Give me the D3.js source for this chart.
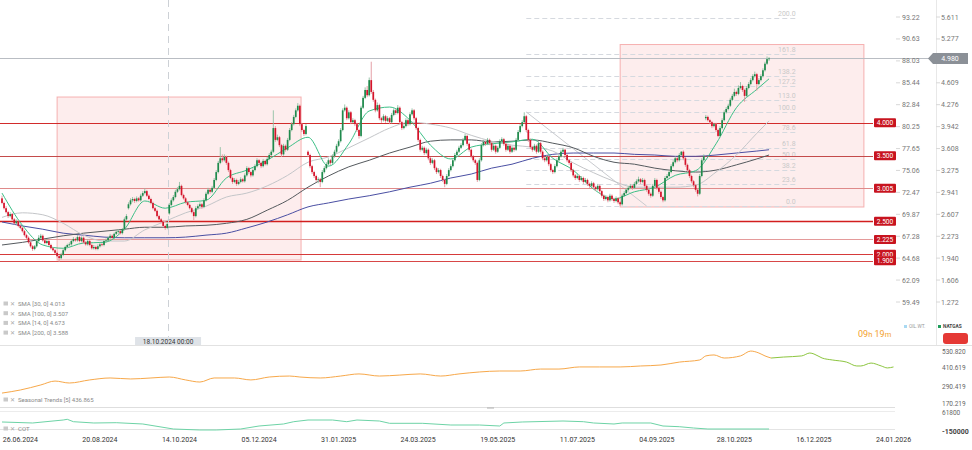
<!DOCTYPE html>
<html><head><meta charset="utf-8">
<script src="https://cdn.jsdelivr.net/npm/d3@7"></script>
<style>
html,body{margin:0;padding:0;background:#fff;}
svg{display:block;font-family:Roboto,"Open Sans",Arial,sans-serif;}
</style></head><body>
<svg id="c" width="972" height="450"></svg>
<script>
// ---------------- DATA ----------------
const opens=[2.85,2.78,2.70,2.64,2.58,2.61,2.53,2.47,2.50,2.43,
2.40,2.35,2.29,2.25,2.18,2.12,2.08,2.12,2.20,2.25,
2.28,2.21,2.17,2.20,2.14,2.09,2.06,2.02,1.97,1.94,
1.99,2.06,2.11,2.14,2.15,2.20,2.23,2.21,2.26,2.20,
2.25,2.18,2.15,2.20,2.14,2.09,2.11,2.08,2.12,2.15,
2.14,2.20,2.21,2.25,2.28,2.25,2.31,2.34,2.35,2.32,
2.38,2.53,2.70,2.76,2.82,2.84,2.81,2.85,2.82,2.89,
2.93,2.96,2.89,2.84,2.78,2.70,2.66,2.58,2.53,2.49,
2.43,2.40,2.62,2.75,2.82,2.87,2.95,2.99,3.04,2.90,
2.85,2.79,2.75,2.70,2.64,2.58,2.70,2.73,2.76,2.72,
2.82,2.92,2.98,2.95,3.01,3.13,3.25,3.39,3.46,3.43,
3.48,3.39,3.28,3.16,3.10,3.13,3.07,3.10,3.14,3.11,
3.20,3.31,3.25,3.20,3.28,3.34,3.43,3.39,3.34,3.42,
3.37,3.45,3.51,3.56,3.92,3.74,3.78,3.66,3.52,3.65,
3.59,3.74,3.89,3.98,4.09,4.19,4.26,3.98,3.89,3.83,
3.56,3.51,3.34,3.25,3.19,3.13,3.14,3.10,3.25,3.31,
3.37,3.43,3.39,3.49,3.56,3.65,3.72,3.89,4.19,4.23,
4.07,4.16,4.01,4.04,3.98,3.89,3.80,4.23,4.38,4.50,
4.42,4.65,4.47,4.35,4.19,4.27,4.07,4.04,4.10,4.03,
4.07,4.01,4.12,4.19,4.15,4.23,4.01,3.92,3.95,4.04,
3.98,4.13,4.19,4.07,3.92,3.74,3.59,3.62,3.54,3.59,
3.46,3.39,3.43,3.31,3.25,3.28,3.19,3.13,3.07,3.19,
3.28,3.34,3.43,3.51,3.56,3.62,3.66,3.74,3.80,3.68,
3.59,3.49,3.43,3.39,3.13,3.43,3.66,3.71,3.68,3.74,
3.69,3.59,3.65,3.56,3.62,3.72,3.75,3.68,3.59,3.65,
3.56,3.62,3.59,3.74,3.86,3.95,4.01,4.10,3.89,3.74,
3.63,3.59,3.65,3.56,3.69,3.56,3.46,3.43,3.48,3.37,
3.28,3.25,3.34,3.43,3.49,3.56,3.59,3.51,3.43,3.39,
3.28,3.20,3.16,3.19,3.13,3.16,3.10,3.13,3.07,3.04,
3.08,3.02,2.99,3.04,2.96,2.89,2.84,2.87,2.82,2.89,
2.84,2.81,2.85,2.79,2.76,2.89,2.93,2.98,3.01,3.04,
3.01,3.07,3.11,3.14,3.10,3.13,3.04,2.98,2.92,2.89,
3.04,3.13,3.01,2.95,2.87,2.82,3.16,3.19,3.25,3.34,
3.40,3.46,3.43,3.51,3.56,3.46,3.36,3.28,3.19,3.11,
3.05,2.98,2.92,3.19,3.43,4.07,4.09,4.04,4.01,3.95,
3.98,3.89,3.80,3.92,4.04,4.16,4.21,4.26,4.35,4.41,
4.47,4.44,4.53,4.56,4.50,4.41,4.53,4.59,4.65,4.71,
4.74,4.59,4.65,4.71,4.80,4.90,4.97];
const highs=[2.89,2.80,2.73,2.66,2.64,2.63,2.55,2.53,2.52,2.46,
2.42,2.37,2.31,2.27,2.20,2.14,2.14,2.23,2.29,2.31,
2.30,2.23,2.23,2.22,2.16,2.11,2.08,2.04,1.99,2.02,
2.08,2.13,2.16,2.18,2.22,2.26,2.25,2.29,2.28,2.27,
2.27,2.20,2.23,2.22,2.16,2.14,2.13,2.15,2.18,2.17,
2.22,2.24,2.27,2.31,2.30,2.33,2.37,2.38,2.37,2.40,
2.56,2.61,2.79,2.85,2.87,2.86,2.88,2.87,2.92,2.96,
3.00,2.98,2.91,2.86,2.80,2.72,2.68,2.60,2.55,2.51,
2.45,2.49,2.78,2.85,2.90,2.98,3.02,3.10,3.06,2.92,
2.87,2.81,2.77,2.72,2.66,2.73,2.76,2.79,2.78,2.85,
2.95,3.01,3.00,3.04,3.16,3.28,3.42,3.63,3.52,3.52,
3.50,3.41,3.30,3.18,3.16,3.15,3.13,3.17,3.16,3.23,
3.34,3.33,3.27,3.31,3.37,3.46,3.45,3.41,3.45,3.44,
3.48,3.54,3.59,4.19,3.95,3.82,3.80,3.68,3.68,3.67,
3.77,3.92,4.01,4.12,4.22,4.30,4.28,4.00,3.91,3.98,
3.58,3.53,3.36,3.27,3.21,3.17,3.16,3.28,3.34,3.40,
3.46,3.45,3.52,3.59,3.68,3.75,3.92,4.22,4.28,4.25,
4.19,4.18,4.07,4.06,4.00,3.91,4.26,4.41,4.54,4.56,
4.69,4.93,4.50,4.37,4.31,4.29,4.09,4.13,4.12,4.10,
4.09,4.15,4.22,4.21,4.27,4.25,4.03,3.98,4.07,4.06,
4.16,4.22,4.21,4.09,3.94,3.76,3.65,3.64,3.62,3.61,
3.48,3.46,3.45,3.33,3.31,3.30,3.21,3.15,3.22,3.31,
3.37,3.46,3.54,3.59,3.65,3.69,3.77,3.83,3.82,3.70,
3.61,3.51,3.45,3.41,3.46,3.69,3.74,3.73,3.77,3.76,
3.71,3.68,3.67,3.65,3.75,3.78,3.77,3.70,3.68,3.67,
3.65,3.64,3.77,3.89,3.98,4.04,4.16,4.12,3.91,3.76,
3.65,3.68,3.67,3.72,3.71,3.58,3.48,3.51,3.50,3.39,
3.30,3.37,3.46,3.52,3.59,3.62,3.61,3.53,3.45,3.41,
3.30,3.22,3.22,3.21,3.19,3.18,3.16,3.15,3.09,3.11,
3.10,3.04,3.07,3.06,2.98,2.91,2.90,2.89,2.92,2.91,
2.86,2.88,2.87,2.81,2.92,2.96,3.01,3.04,3.07,3.06,
3.10,3.14,3.18,3.16,3.16,3.15,3.06,3.00,2.94,3.07,
3.16,3.15,3.03,2.97,2.89,3.19,3.22,3.28,3.37,3.43,
3.49,3.48,3.54,3.57,3.58,3.48,3.38,3.30,3.21,3.13,
3.07,3.00,3.22,3.46,3.52,4.12,4.11,4.06,4.03,4.00,
4.00,3.91,3.95,4.07,4.19,4.24,4.29,4.38,4.44,4.52,
4.49,4.57,4.62,4.58,4.52,4.56,4.62,4.68,4.74,4.78,
4.76,4.68,4.74,4.83,4.93,5.01,5.00];
const lows=[2.76,2.68,2.62,2.55,2.56,2.51,2.45,2.45,2.41,2.38,
2.33,2.27,2.23,2.16,2.10,2.05,2.06,2.10,2.18,2.23,
2.19,2.15,2.15,2.12,2.07,2.04,2.00,1.95,1.88,1.92,
1.97,2.04,2.09,2.12,2.13,2.18,2.19,2.19,2.18,2.18,
2.16,2.13,2.13,2.12,2.07,2.07,2.06,2.06,2.10,2.12,
2.12,2.18,2.19,2.23,2.23,2.23,2.29,2.31,2.30,2.30,
2.36,2.51,2.68,2.74,2.79,2.78,2.79,2.80,2.80,2.87,
2.91,2.87,2.82,2.76,2.68,2.64,2.56,2.51,2.47,2.41,
2.37,2.38,2.60,2.73,2.80,2.85,2.93,2.97,2.88,2.83,
2.77,2.73,2.68,2.62,2.52,2.56,2.68,2.71,2.69,2.70,
2.80,2.90,2.92,2.93,2.99,3.11,3.23,3.37,3.40,3.41,
3.36,3.25,3.14,3.07,3.08,3.04,3.05,3.08,3.09,3.09,
3.18,3.22,3.17,3.18,3.26,3.32,3.36,3.31,3.32,3.35,
3.35,3.43,3.49,3.54,3.71,3.72,3.63,3.48,3.50,3.56,
3.57,3.72,3.87,3.96,4.07,4.17,3.95,3.86,3.80,3.81,
3.48,3.31,3.22,3.16,3.10,3.08,3.02,3.08,3.23,3.29,
3.35,3.36,3.37,3.47,3.54,3.63,3.70,3.87,4.17,4.04,
4.05,3.98,3.99,3.95,3.86,3.76,3.78,4.21,4.36,4.39,
4.40,4.44,4.32,4.16,4.17,4.04,4.00,4.02,4.00,4.01,
3.98,3.99,4.10,4.12,4.13,3.98,3.89,3.90,3.93,3.95,
3.96,4.11,4.04,3.89,3.71,3.56,3.57,3.51,3.52,3.43,
3.36,3.37,3.28,3.22,3.23,3.16,3.10,3.02,3.05,3.17,
3.26,3.32,3.41,3.49,3.54,3.60,3.64,3.72,3.65,3.56,
3.46,3.40,3.36,3.10,3.11,3.41,3.64,3.65,3.66,3.66,
3.56,3.57,3.53,3.54,3.60,3.70,3.65,3.56,3.57,3.53,
3.54,3.56,3.57,3.72,3.84,3.93,3.99,3.86,3.71,3.60,
3.56,3.57,3.53,3.54,3.53,3.43,3.40,3.41,3.34,3.25,
3.22,3.23,3.32,3.41,3.47,3.54,3.48,3.40,3.36,3.25,
3.17,3.13,3.14,3.10,3.11,3.07,3.08,3.04,3.01,3.02,
2.99,2.96,2.97,2.93,2.86,2.81,2.82,2.79,2.80,2.81,
2.78,2.79,2.76,2.73,2.74,2.87,2.91,2.96,2.99,2.98,
2.99,3.05,3.09,3.07,3.08,3.01,2.95,2.89,2.86,2.87,
3.02,2.98,2.92,2.84,2.79,2.80,3.14,3.17,3.23,3.32,
3.38,3.40,3.41,3.49,3.43,3.33,3.25,3.16,3.08,3.02,
2.95,2.88,2.90,3.17,3.41,4.04,4.02,3.98,3.92,3.93,
3.86,3.78,3.78,3.90,4.02,4.14,4.19,4.24,4.33,4.39,
4.41,4.42,4.51,4.47,4.32,4.39,4.51,4.57,4.63,4.69,
4.49,4.57,4.63,4.69,4.78,4.88,4.94];
const closes=[2.78,2.70,2.64,2.58,2.61,2.53,2.47,2.50,2.43,2.40,
2.35,2.29,2.25,2.18,2.12,2.08,2.12,2.20,2.25,2.28,
2.21,2.17,2.20,2.14,2.09,2.06,2.02,1.97,1.94,1.99,
2.06,2.11,2.14,2.15,2.20,2.23,2.21,2.26,2.20,2.25,
2.18,2.15,2.20,2.14,2.09,2.11,2.08,2.12,2.15,2.14,
2.20,2.21,2.25,2.28,2.25,2.31,2.34,2.35,2.32,2.38,
2.53,2.58,2.76,2.82,2.84,2.81,2.85,2.82,2.89,2.93,
2.96,2.89,2.84,2.78,2.70,2.66,2.58,2.53,2.49,2.43,
2.40,2.46,2.75,2.82,2.87,2.95,2.99,3.04,2.90,2.85,
2.79,2.75,2.70,2.64,2.58,2.70,2.73,2.76,2.72,2.82,
2.92,2.98,2.95,3.01,3.13,3.25,3.39,3.46,3.43,3.48,
3.39,3.28,3.16,3.10,3.13,3.07,3.10,3.14,3.11,3.20,
3.31,3.25,3.20,3.28,3.34,3.43,3.39,3.34,3.42,3.37,
3.45,3.51,3.56,3.92,3.74,3.78,3.66,3.52,3.65,3.59,
3.74,3.89,3.98,4.09,4.19,4.26,3.98,3.89,3.83,3.95,
3.51,3.34,3.25,3.19,3.13,3.14,3.10,3.25,3.31,3.37,
3.43,3.39,3.49,3.56,3.65,3.72,3.89,4.19,4.23,4.07,
4.16,4.01,4.04,3.98,3.89,3.80,4.23,4.38,4.50,4.42,
4.65,4.47,4.35,4.19,4.27,4.07,4.04,4.10,4.03,4.07,
4.01,4.12,4.19,4.15,4.23,4.01,3.92,3.95,4.04,3.98,
4.13,4.19,4.07,3.92,3.74,3.59,3.62,3.54,3.59,3.46,
3.39,3.43,3.31,3.25,3.28,3.19,3.13,3.07,3.19,3.28,
3.34,3.43,3.51,3.56,3.62,3.66,3.74,3.80,3.68,3.59,
3.49,3.43,3.39,3.13,3.43,3.66,3.71,3.68,3.74,3.69,
3.59,3.65,3.56,3.62,3.72,3.75,3.68,3.59,3.65,3.56,
3.62,3.59,3.74,3.86,3.95,4.01,4.10,3.89,3.74,3.63,
3.59,3.65,3.56,3.69,3.56,3.46,3.43,3.48,3.37,3.28,
3.25,3.34,3.43,3.49,3.56,3.59,3.51,3.43,3.39,3.28,
3.20,3.16,3.19,3.13,3.16,3.10,3.13,3.07,3.04,3.08,
3.02,2.99,3.04,2.96,2.89,2.84,2.87,2.82,2.89,2.84,
2.81,2.85,2.79,2.76,2.89,2.93,2.98,3.01,3.04,3.01,
3.07,3.11,3.14,3.10,3.13,3.04,2.98,2.92,2.89,3.04,
3.13,3.01,2.95,2.87,2.82,3.16,3.19,3.25,3.34,3.40,
3.46,3.43,3.51,3.56,3.46,3.36,3.28,3.19,3.11,3.05,
2.98,2.92,3.19,3.43,3.49,4.09,4.04,4.01,3.95,3.98,
3.89,3.80,3.92,4.04,4.16,4.21,4.26,4.35,4.41,4.47,
4.44,4.53,4.56,4.50,4.41,4.53,4.59,4.65,4.71,4.74,
4.59,4.65,4.71,4.80,4.90,4.97,4.98];

// moving averages at these bar indexes
const maIdx=[0,10,20,30,40,50,60,70,80,90,100,110,120,130,140,150,160,170,180,190,200,210,220,230,240,250,260,270,280,290,300,310,320,330,340,350,360,370,376];
const sma14=[2.93,2.44,2.14,2.09,2.17,2.18,2.38,2.81,2.70,2.79,2.82,3.16,3.28,3.43,3.62,3.78,3.34,3.68,4.18,4.24,4.04,3.66,3.45,3.63,3.68,3.71,3.75,3.46,3.28,2.99,2.84,2.95,3.02,3.20,3.27,3.68,4.23,4.51,4.67];
const sma30=[2.56,2.63,2.60,2.47,2.29,2.20,2.20,2.37,2.50,2.63,2.73,2.87,2.93,3.04,3.20,3.40,3.48,3.62,3.77,3.92,4.01,3.98,3.92,3.81,3.72,3.66,3.63,3.57,3.39,3.24,3.11,3.02,3.02,3.02,3.05,3.25,3.51,3.84,4.03];
const sma100=[2.14,2.18,2.23,2.28,2.32,2.35,2.38,2.41,2.41,2.43,2.44,2.47,2.53,2.67,2.82,3.02,3.19,3.33,3.43,3.54,3.63,3.72,3.74,3.74,3.71,3.72,3.74,3.69,3.62,3.49,3.40,3.37,3.31,3.27,3.25,3.28,3.36,3.45,3.51];
const sma200=[2.49,2.43,2.38,2.32,2.29,2.26,2.25,2.25,2.25,2.26,2.29,2.32,2.40,2.49,2.60,2.72,2.78,2.84,2.89,2.95,3.02,3.08,3.16,3.22,3.31,3.37,3.46,3.52,3.54,3.54,3.54,3.52,3.51,3.49,3.49,3.51,3.54,3.57,3.59];
const legendLabels=["SMA [30, 0] 4.013","SMA [100, 0] 3.507","SMA [14, 0] 4.673","SMA [200, 0] 3.588"];

// horizontal levels
const levels=[4.000,3.500,3.005,2.500,2.225,2.000,1.900];
const levelLabels=["4.000","3.500","3.005","2.500","2.225","2.000","1.900"];
// fibonacci
const fibLevels=[0,23.6,38.2,50,61.8,78.6,100,113,127.2,138.2,161.8,200];
const fibLow=2.733, fibHigh=4.165, fibFromIdx=257, fibToIdx=316, fibEndIdx=389.5;
// range boxes [fromIdx,toIdx,topPrice,bottomPrice]
const boxes=[[27,146.6,4.393,1.911],[303,422.5,5.192,2.718]];
const lastPrice=4.980;
const crossIdx=81.4, crossLabel="18.10.2024 00:00";

// axes
const priceTicks=[5.611,5.277,4.943,4.609,4.276,3.942,3.608,3.275,2.941,2.607,2.273,1.940,1.606,1.272];
const leftTickLabels=["93.22","90.63","88.03","85.44","82.84","80.25","77.65","75.06","72.47","69.87","67.28","64.68","62.09","59.49"];
const dateIdx=[9,48,87,126,165,204,243,282,321,359,398,437];
const dateLabels=["26.06.2024","20.08.2024","14.10.2024","05.12.2024","31.01.2025","24.03.2025","19.05.2025","11.07.2025","04.09.2025","28.10.2025","16.12.2025","24.01.2026"];

// seasonal trends
const seasIdx=[0,9,19,26,33,43,53,63,73,82,90,97,104,114,122,131,141,146,156,166,175,185,195,205,215,224,234,244,254,264,273,283,293,303,313,323,332,342,345,349,354,362,367,371,374,377];
const seasVal=[253,272,303,327,315,334,346,340,346,352,334,321,346,346,334,352,358,352,346,358,371,358,364,371,358,371,383,389,389,401,401,414,414,414,420,426,444,457,482,488,469,482,512,500,482,469];
const seasFutIdx=[377,383,392,396,398,402,407,414,419,421,426,431,434,437];
const seasFutVal=[469,475,482,500,494,469,457,444,420,420,438,420,408,414];
const seasTicks=[530.820,410.619,290.419,170.219];
// COT
const cotIdx=[0,15,30,32,35,45,56,69,84,97,105,117,126,138,143,150,162,169,174,185,190,206,220,234,244,246,255,275,285,290,300,304,318,324,332,339,346,376];
const cotVal=[-49100,-59200,-29000,-21900,-46100,-59200,-56200,-69300,-119800,-129800,-129800,-119800,-89500,-69300,-46100,-29000,-29000,-46100,-29000,-39100,-62300,-62300,-79400,-79400,-89500,-59200,-49100,-39100,-46100,-59200,-69300,-59200,-59200,-89500,-96500,-109700,-119800,-119800];
const cotTicks=["61800","-150000"];

// ---------------- DRAW ----------------
const svg=d3.select('#c');
const x=d3.scaleLinear().domain([0,437]).range([2,893.5]);
const y=d3.scaleLinear().domain([1.272,5.611]).range([302,17]);
const ys=d3.scaleLinear().domain([170.219,530.820]).range([406.5,348]);
const yc=d3.scaleLinear().domain([-150000,61800]).range([432,411]);
const n=Math.min(opens.length,highs.length,lows.length,closes.length);
const fmt3=d3.format('.3f');

// range boxes
svg.append('g').selectAll('rect').data(boxes).join('rect')
  .attr('x',d=>x(d[0])).attr('y',d=>y(d[2]))
  .attr('width',d=>x(d[1])-x(d[0])).attr('height',d=>y(d[3])-y(d[2]))
  .attr('fill','rgba(240,110,110,0.12)').attr('stroke','rgba(238,120,120,0.55)').attr('stroke-width',1);

// fibonacci
const fibPrice=l=>fibLow+(fibHigh-fibLow)*l/100;
const fg=svg.append('g');
fg.selectAll('line').data(fibLevels).join('line')
  .attr('x1',x(fibFromIdx)).attr('x2',x(fibEndIdx))
  .attr('y1',d=>Math.round(y(fibPrice(d)))+0.5).attr('y2',d=>Math.round(y(fibPrice(d)))+0.5)
  .attr('stroke','#d5d9df').attr('stroke-width',1).attr('stroke-dasharray','5,3');
fg.selectAll('text').data(fibLevels).join('text')
  .attr('x',x(fibEndIdx)-1).attr('y',d=>y(fibPrice(d))-2)
  .attr('text-anchor','end').attr('font-size',7).attr('fill','#c9c9c9')
  .text(d=>d.toFixed(1));
fg.append('line').attr('x1',x(fibFromIdx)).attr('y1',y(fibHigh)).attr('x2',x(fibToIdx)).attr('y2',y(fibLow))
  .attr('stroke','#c9cbcf').attr('stroke-width',1);

// level lines
const levelColors=['#d22b2b','#c44b4b','#df8a8a','#d21e1e','#e49a9a','#d63a3a','#d84848'];
const lg=svg.append('g');
lg.selectAll('line').data(levels).join('line')
  .attr('x1',0).attr('x2',873)
  .attr('y1',d=>Math.round(y(d))+0.5).attr('y2',d=>Math.round(y(d))+0.5)
  .attr('stroke',(d,i)=>levelColors[i]).attr('stroke-width',(d,i)=>i===3?1.4:1);

// last price line
svg.append('line').attr('x1',0).attr('x2',932).attr('y1',Math.round(y(lastPrice))+0.5).attr('y2',Math.round(y(lastPrice))+0.5)
  .attr('stroke','#b9bdc3').attr('stroke-width',1);

// crosshair
svg.append('line').attr('x1',Math.round(x(crossIdx))+0.5).attr('x2',Math.round(x(crossIdx))+0.5).attr('y1',0).attr('y2',344)
  .attr('stroke','#cdd1d6').attr('stroke-width',1).attr('stroke-dasharray','7,5');

// moving averages
const maLine=arr=>d3.line().x((d,i)=>x(maIdx[i])).y(d=>y(d)).curve(d3.curveMonotoneX)(arr);
[[sma200,'#4a4fa3'],[sma100,'#555a5e'],[sma30,'#c4c6c9'],[sma14,'#3cbf86']].forEach(([a,c])=>{
  svg.append('path').attr('d',maLine(a)).attr('fill','none').attr('stroke',c).attr('stroke-width',1);
});

// candles
const up='#1f8a4c', dn='#d5132a';
const cg=svg.append('g');
const idx=d3.range(n);
cg.selectAll('line').data(idx).join('line')
  .attr('x1',i=>x(i)).attr('x2',i=>x(i)).attr('y1',i=>y(highs[i])).attr('y2',i=>y(lows[i]))
  .attr('stroke',i=>closes[i]>=opens[i]?'#8fbfa3':'#e2959c').attr('stroke-width',0.9);
cg.selectAll('rect').data(idx).join('rect')
  .attr('x',i=>x(i)-0.85).attr('width',1.7)
  .attr('y',i=>y(Math.max(opens[i],closes[i])))
  .attr('height',i=>Math.max(0.8,Math.abs(y(opens[i])-y(closes[i]))))
  .attr('fill',i=>closes[i]>=opens[i]?up:dn);

// level labels
const ll=svg.append('g');
levels.forEach((v,i)=>{
  const yy=y(v);
  ll.append('rect').attr('x',874).attr('y',yy-4.5).attr('width',22).attr('height',9).attr('fill','#c8141f').attr('rx',1);
  ll.append('text').attr('x',885).attr('y',yy+2.4).attr('text-anchor','middle').attr('font-size',6.6).attr('fill','#fff').text(levelLabels[i]);
});

// right axes
const ax=svg.append('g');
const ly=y(lastPrice);
ax.append('line').attr('x1',936.5).attr('x2',936.5).attr('y1',0).attr('y2',345).attr('stroke','#e8e8e8');
priceTicks.forEach((p,i)=>{
  const yy=y(p);
  ax.append('line').attr('x1',896).attr('x2',900).attr('y1',yy).attr('y2',yy).attr('stroke','#d8d8d8');
  ax.append('line').attr('x1',936).attr('x2',940).attr('y1',yy).attr('y2',yy).attr('stroke','#d8d8d8');
  ax.append('text').attr('x',902).attr('y',yy+2.5).attr('font-size',7).attr('fill','#777').text(leftTickLabels[i]);
  if(Math.abs(yy-ly)>8) ax.append('text').attr('x',941).attr('y',yy+2.5).attr('font-size',7).attr('fill','#777').text(fmt3(p));
});
// last price tag
ax.append('path').attr('d',`M928,${ly} L933,${ly-5.5} L968,${ly-5.5} L968,${ly+5.5} L933,${ly+5.5} Z`).attr('fill','#8b9097');
ax.append('text').attr('x',950).attr('y',ly+2.5).attr('text-anchor','middle').attr('font-size',7).attr('fill','#fff').text(lastPrice.toFixed(3));

// legend (SMA)
const lgd=svg.append('g');
legendLabels.forEach((t,i)=>{
  const yy=304+i*9.7;
  lgd.append('rect').attr('x',3.5).attr('y',yy-2.5).attr('width',4.5).attr('height',4).attr('fill','#c9c9c9');
  lgd.append('text').attr('x',10).attr('y',yy+2).attr('font-size',5.5).attr('fill','#aaa').text('✕');
  lgd.append('text').attr('x',18).attr('y',yy+2).attr('font-size',6).attr('fill','#8a8a8a').text(t);
});

// crosshair label
const cx=x(crossIdx);
svg.append('rect').attr('x',cx-33).attr('y',337).attr('width',66).attr('height',9).attr('fill','#dfe3e8');
svg.append('text').attr('x',cx).attr('y',344).attr('text-anchor','middle').attr('font-size',6.5).attr('fill','#333').text(crossLabel);

// top-right status
svg.append('text').attr('x',858).attr('y',337).attr('font-size',9).attr('fill','#f3a12b')
  .html('09<tspan font-size="7.5">h</tspan> 19<tspan font-size="7.5">m</tspan>');
svg.append('rect').attr('x',904).attr('y',325).attr('width',3).attr('height',3).attr('fill','#a9d9f2');
svg.append('text').attr('x',909).attr('y',328).attr('font-size',4.8).attr('fill','#999').text('OIL.WT.');
svg.append('rect').attr('x',938).attr('y',325).attr('width',3).attr('height',3).attr('fill','#1e9d5b');
svg.append('text').attr('x',943).attr('y',328).attr('font-size',4.8).attr('fill','#444').attr('font-weight','bold').text('NATGAS');
svg.append('rect').attr('x',943).attr('y',333).attr('width',25).attr('height',11).attr('rx',3).attr('fill','#e53935');

// panel separators
svg.append('line').attr('x1',0).attr('x2',972).attr('y1',345.5).attr('y2',345.5).attr('stroke','#e2e2e2');
svg.append('line').attr('x1',0).attr('x2',895).attr('y1',407.5).attr('y2',407.5).attr('stroke','#dedede');
svg.append('line').attr('x1',0).attr('x2',895).attr('y1',411.5).attr('y2',411.5).attr('stroke','#ececec');
svg.append('line').attr('x1',487).attr('x2',494).attr('y1',408).attr('y2',408).attr('stroke','#b0b0b0');
svg.append('line').attr('x1',0).attr('x2',895).attr('y1',429.5).attr('y2',429.5).attr('stroke','#e4e4e4');

// seasonal
const sLine=(ix,vals)=>d3.line().x((d,i)=>x(ix[i])).y(d=>ys(d)).curve(d3.curveMonotoneX)(vals);
svg.append('path').attr('d',sLine(seasIdx,seasVal)).attr('fill','none').attr('stroke','#f7a84a').attr('stroke-width',1);
svg.append('path').attr('d',sLine(seasFutIdx,seasFutVal)).attr('fill','none').attr('stroke','#8cc53f').attr('stroke-width',1);
seasTicks.forEach(v=>{
  const yy=Math.min(403.5,Math.max(352,ys(v)));
  svg.append('text').attr('x',942).attr('y',yy+2.3).attr('font-size',6.5).attr('fill','#666').text(d3.format('.3f')(v));
});
svg.append('rect').attr('x',3.5).attr('y',397.5).attr('width',4.5).attr('height',4).attr('fill','#c9c9c9');
svg.append('text').attr('x',10).attr('y',402).attr('font-size',5.5).attr('fill','#aaa').text('✕');
svg.append('text').attr('x',18).attr('y',402).attr('font-size',6).attr('fill','#8a8a8a').text('Seasonal  Trends  [5]  436.865');

// COT
svg.append('path').attr('d',d3.line().x((d,i)=>x(cotIdx[i])).y(d=>yc(d))(cotVal)).attr('fill','none').attr('stroke','#6dd3a6').attr('stroke-width',1);
svg.append('text').attr('x',942).attr('y',414.5).attr('font-size',6.5).attr('fill','#666').text(cotTicks[0]);
svg.append('text').attr('x',942).attr('y',434).attr('font-size',7).attr('fill','#444').attr('font-weight','bold').text(cotTicks[1]);
svg.append('rect').attr('x',3.5).attr('y',426.5).attr('width',4.5).attr('height',4).attr('fill','#c9c9c9');
svg.append('text').attr('x',10).attr('y',431).attr('font-size',5.5).attr('fill','#aaa').text('✕');
svg.append('text').attr('x',18).attr('y',431).attr('font-size',6).attr('fill','#8a8a8a').text('COT');

// date axis
svg.append('g').selectAll('text').data(dateIdx).join('text')
  .attr('x',d=>x(d)).attr('y',442).attr('text-anchor','middle').attr('font-size',7).attr('fill','#333')
  .text((d,i)=>dateLabels[i]);
</script>
</body></html>
